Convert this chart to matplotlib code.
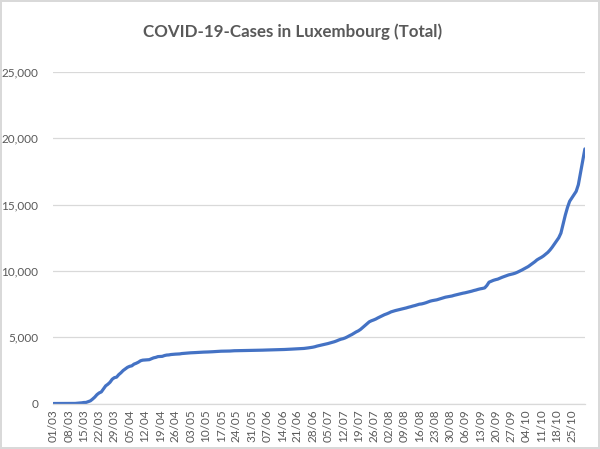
import matplotlib.pyplot as plt
import matplotlib.ticker as mticker
import numpy as np
import pandas as pd

# Casos acumulados por mes
marzo = [1, 1, 1, 1, 2, 3, 4, 5, 5, 7, 7, 26, 38, 51, 77, 81, 140, 203, 335, 484,
         670, 798, 875, 1099, 1333, 1453, 1605, 1831, 1950, 1988, 2178]
abril = [2319, 2487, 2612, 2729, 2804, 2843, 2970, 3034, 3115, 3223, 3270, 3281, 3292,
         3307, 3373, 3444, 3480, 3537, 3550, 3558, 3618, 3654, 3665, 3695, 3711, 3723,
         3729, 3741, 3769, 3784]
mayo = [3802, 3812, 3824, 3828, 3840, 3851, 3859, 3871, 3877, 3886, 3888, 3894, 3904,
        3915, 3923, 3930, 3945, 3947, 3950, 3952, 3958, 3971, 3980, 3981, 3988, 3990,
        3993, 3995, 4001, 4008, 4012]
junio = [4016, 4016, 4018, 4020, 4024, 4032, 4035, 4039, 4040, 4046, 4052, 4056, 4060,
         4066, 4074, 4085, 4093, 4099, 4107, 4113, 4120, 4133, 4140, 4153, 4170, 4195,
         4216, 4245, 4280, 4330]
julio = [4370, 4410, 4445, 4480, 4520, 4565, 4610, 4660, 4720, 4790, 4850, 4890, 4950,
         5030, 5120, 5200, 5300, 5400, 5480, 5590, 5730, 5880, 6020, 6160, 6240, 6300,
         6370, 6460, 6540, 6620, 6700]
agosto = [6760, 6830, 6910, 6960, 7010, 7050, 7090, 7130, 7170, 7210, 7260, 7300, 7350,
          7390, 7440, 7490, 7510, 7550, 7600, 7660, 7720, 7760, 7790, 7820, 7870, 7920,
          7970, 8020, 8050, 8080, 8110]
septiembre = [8160, 8200, 8240, 8280, 8320, 8350, 8390, 8430, 8470, 8520, 8560, 8610,
              8650, 8680, 8720, 8900, 9150, 9220, 9290, 9340, 9380, 9450, 9520, 9580,
              9640, 9700, 9740, 9780, 9830, 9900]
octubre = [9980, 10060, 10150, 10240, 10330, 10450, 10560, 10690, 10830, 10930, 11020,
           11130, 11260, 11400, 11580, 11790, 12030, 12280, 12500, 12850, 13530, 14200,
           14780, 15250, 15500, 15750, 16000, 16500, 17400, 18300, 19200]

casos = marzo + abril + mayo + junio + julio + agosto + septiembre + octubre
fechas = pd.date_range('2020-03-01', periods=len(casos), freq='D')
etiquetas = [f.strftime('%d/%m') for f in fechas]

gris = '#595959'

fig = plt.figure(figsize=(6, 4.49), dpi=100)
fig.patch.set_edgecolor('#D9D9D9')
fig.patch.set_linewidth(1.5)
ax = fig.add_axes([0.089, 0.1013, 0.8858, 0.7383])

x = np.arange(len(casos))
ax.plot(x, casos, color='#4472C4', linewidth=2.3, solid_capstyle='round')

# Ejes y cuadricula al estilo Excel
ax.set_xlim(0, len(casos) - 1)
ax.set_ylim(0, 25000)
ax.yaxis.set_major_locator(mticker.MultipleLocator(5000))
ax.yaxis.set_major_formatter(mticker.StrMethodFormatter('{x:,.0f}'))
ax.grid(axis='y', color='#D9D9D9', linewidth=0.9)
ax.set_axisbelow(True)
for lado in ['top', 'right', 'left']:
    ax.spines[lado].set_visible(False)
ax.spines['bottom'].set_color('#D9D9D9')
ax.spines['bottom'].set_linewidth(0.9)

pos = x[::7]
ax.set_xticks(pos)
ax.set_xticklabels([etiquetas[i] for i in pos], rotation=90, family='Lato',
                   fontsize=8.5, color=gris)
ax.tick_params(axis='both', length=0)
ax.tick_params(axis='x', pad=4)
ax.tick_params(axis='y', pad=11, labelcolor=gris, labelsize=8.5)
for t in ax.get_yticklabels():
    t.set_family('Lato')

fig.text(0.487, 0.93, 'COVID-19-Cases in Luxembourg (Total)', ha='center', va='center',
         family='Lato', fontsize=12.2, fontweight='bold', color=gris)

fig.savefig('out.png', dpi=100, edgecolor=fig.get_edgecolor())
